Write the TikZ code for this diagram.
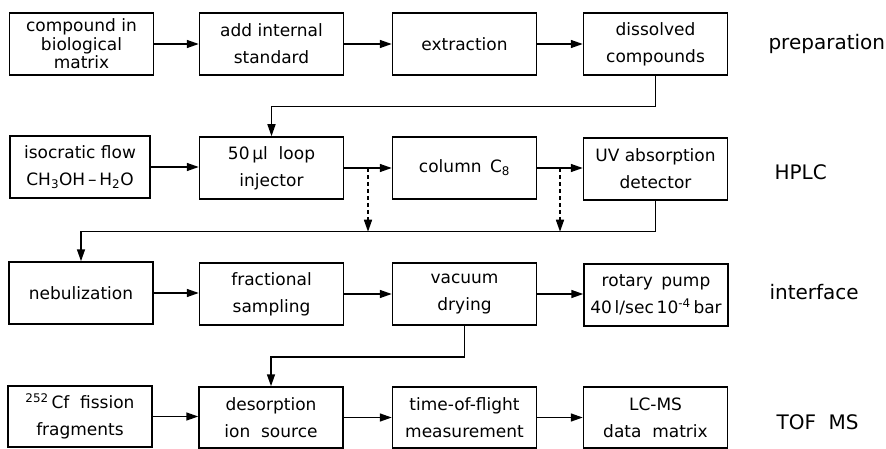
\documentclass[tikz,border=0pt]{standalone}
\usepackage{fontspec}
\setmainfont{DejaVu Sans}
\usetikzlibrary{arrows.meta,calc}
\begin{document}
\begin{tikzpicture}[x=1pt,y=-1pt,
 box/.style={draw,line width=1.5pt,minimum width=144pt,minimum height=62pt,inner sep=0pt,align=center,font=\fontsize{17}{27}\selectfont},
 box3/.style={box,font=\fontsize{17}{18.5}\selectfont},
 arr/.style={line width=1.5pt,-{Triangle[length=12pt,width=8pt]}},
 darr/.style={arr,dash pattern=on 4pt off 3pt},
 lab/.style={anchor=west,font=\fontsize{20}{22}\selectfont}]
\useasboundingbox (0,0) rectangle (886,449);
% row 1: preparation
\node[box3] (p1) at (81.5,44) {compound in\\biological\\matrix};
\node[box] (p2) at (271.5,44) {add internal\\standard};
\node[box] (p3) at (464.5,44) {extraction};
\node[box] (p4) at (655.5,44) {dissolved\\compounds};
\node[lab] (lp) at (765,44) {preparation};
% row 2: HPLC
\node[box,minimum width=140pt] (h1) at (80,167) {isocratic flow\\CH\textsubscript{3}OH\,–\,H\textsubscript{2}O};
\node[box] (h2) at (271.5,168) {50\,µl\ \ loop\\injector};
\node[box] (h3) at (464.5,168) {column\enspace C\textsubscript{8}};
\node[box] (h4) at (655.5,169) {UV absorption\\detector};
\node[lab] (lh) at (771,172) {HPLC};
% row 3: interface
\node[box] (i1) at (81,293) {nebulization};
\node[box] (i2) at (271.5,294) {fractional\\sampling};
\node[box] (i3) at (464.5,294) {vacuum\\drying};
\node[box] (i4) at (656,295) {rotary\enspace pump\\40\,l/sec\,10\textsuperscript{-4}\,bar};
\node[lab] (li) at (766,292) {interface};
% row 4: TOF MS
\node[box,minimum height=61pt] (m1) at (80,416.5) {\textsuperscript{252}\,Cf\ \ fission\\fragments};
\node[box,minimum height=61pt] (m2) at (271,417.5) {desorption\\ion\ \ source};
\node[box,minimum height=61pt] (m3) at (464.5,417.5) {time-of-flight\\measurement};
\node[box,minimum height=61pt] (m4) at (655.5,417.5) {LC-MS\\data\ \ matrix};
\node[lab] (lm) at (773,422) {TOF\ \ MS};
% horizontal arrows
\foreach \a/\b in {p1/p2,p2/p3,p3/p4,h1/h2,h2/h3,h3/h4,i1/i2,i2/i3,i3/i4,m1/m2,m2/m3,m3/m4}
  \draw[arr] (\a.east) -- (\a.east -| \b.west);
% links between rows
\draw[arr] (p4.south) -- ++(0,31) -| (h2.north);
\draw[arr] (h4.south) -- ++(0,31) coordinate (bus) -| (i1.north);
\draw[arr] (i3.south) -- ++(0,31) -| (m2.north);
% dashed taps
\coordinate (t1) at ($(h2.east)!0.5!(h3.west)$);
\coordinate (t2) at ($(h3.east)!0.5!(h4.west)$);
\draw[darr] (t1) -- (t1 |- bus);
\draw[darr] (t2) -- (t2 |- bus);
\end{tikzpicture}
\end{document}
